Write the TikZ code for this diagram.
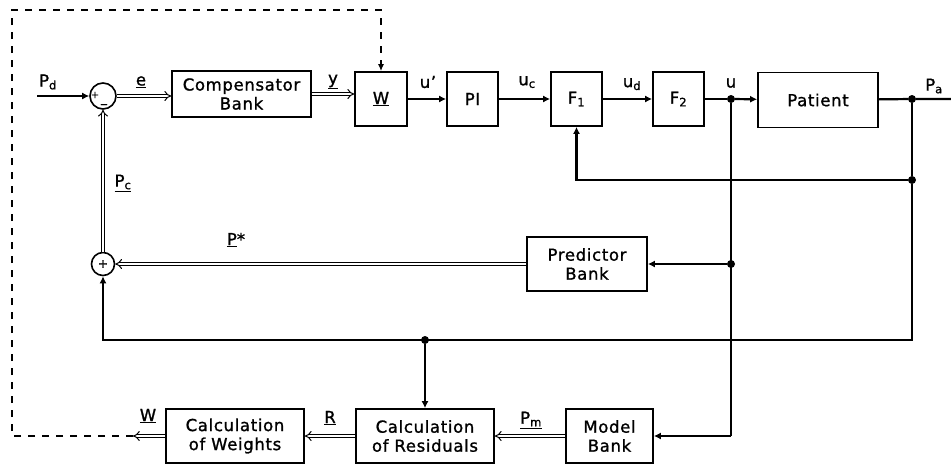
\documentclass[tikz,border=0pt]{standalone}
\usepackage{fontspec}
\setmainfont[LetterSpace=4,FakeBold=1.2]{DejaVu Sans}
\usetikzlibrary{arrows.meta}
\begin{document}
\begin{tikzpicture}[x=1pt,y=-1pt,
  every node/.style={font=\fontsize{16.5}{19}\selectfont},
  blk/.style={draw,line width=1.7pt,align=center,inner sep=0pt},
  sumc/.style={draw,circle,line width=1.6pt,inner sep=0pt},
  sig/.style={line width=2.2pt,-{Latex[length=7pt,width=7pt]}},
  wire/.style={line width=2.2pt},
  dbl/.style={double,line width=1pt,double distance=2.4pt,-{Implies}},
  dsh/.style={dash pattern=on 7pt off 7pt,line width=1.5pt},
  dot/.style={circle,fill,inner sep=0pt,minimum size=8pt},
  sgn/.style={inner sep=0pt,font=\fontsize{10}{10}\selectfont},
  lbl/.style={inner sep=0pt}
]
\useasboundingbox (0,0) rectangle (951,466);

% blocks
\node[sumc,minimum size=26pt] (s1) at (103,96) {};
\node[sgn] (s1p) at (95,95) {+};
\node[sgn] (s1m) at (104,106) {−};
\node[sumc,minimum size=23pt] (s2) at (103,264) {};
\node[sgn,font=\fontsize{12}{12}\selectfont] (s2p) at (103,264) {+};
\node[blk,minimum width=139pt,minimum height=46pt] (comp) at (241.5,94) {Compensator\\Bank};
\node[blk,minimum width=52pt,minimum height=54pt] (W) at (381,99) {\underline{W}};
\node[blk,minimum width=51pt,minimum height=54pt] (PI) at (472.5,99) {PI};
\node[blk,minimum width=51pt,minimum height=54pt] (F1) at (576.5,99) {F\textsubscript{1}};
\node[blk,minimum width=51pt,minimum height=54pt] (F2) at (678.5,99) {F\textsubscript{2}};
\node[blk,minimum width=120pt,minimum height=55pt] (pat) at (818,100) {Patient};
\node[blk,minimum width=120pt,minimum height=54pt] (pred) at (587,264) {Predictor\\Bank};
\node[blk,minimum width=138pt,minimum height=54pt] (cw) at (235,436) {Calculation\\of Weights};
\node[blk,minimum width=138pt,minimum height=54pt] (res) at (425,436) {Calculation\\of Residuals};
\node[blk,minimum width=87pt,minimum height=54pt] (mb) at (609.5,436) {Model\\Bank};

% junctions and coordinates
\node[dot] (ju) at (731,99) {};
\node[dot] (jpa) at (912,99) {};
\node[dot] (jfb) at (912,180) {};
\node[dot] (jpr) at (731,264) {};
\node[dot] (jbot) at (425,340) {};
\coordinate (pin) at (37,96);
\coordinate (pout) at (951,99);
\coordinate (cbr) at (912,340);
\coordinate (umb) at (731,436);
\coordinate (wend) at (133,436);
\coordinate (d1) at (12,436);
\coordinate (d2) at (12,10);
\coordinate (d3) at (381,10);

% forward path
\draw[sig] (pin) -- (s1);
\draw[dbl] (s1) -- (s1 -| comp.west);
\draw[dbl] (comp.east) -- (comp.east -| W.west);
\draw[sig] (W) -- (PI);
\draw[sig] (PI) -- (F1);
\draw[sig] (F1) -- (F2);
\draw[wire] (F2) -- (ju);
\draw[sig] (ju) -- (pat);
\draw[wire] (pat) -- (jpa) -- (pout);

% feedback
\draw[sig] (jfb) -| (F1.south);
\draw[wire] (jpa) -- (jfb);
\draw[sig] (jfb) -- (cbr) -| (s2.south);
\draw[sig] (jbot) -- (res.north);
\draw[wire] (ju) -- (umb);
\draw[sig] (umb) -- (mb.east);
\draw[sig] (jpr) -- (pred.east);
\draw[dbl] (pred) -- (s2);
\draw[dbl] (s2) -- (s1);

% bottom
\draw[dbl] (mb) -- (res);
\draw[dbl] (res) -- (cw);
\draw[dbl] (cw) -- (wend);
\draw[dsh,-{Latex[length=7pt,width=6pt]}] (wend) -- (d1) -- (d2) -- (d3) -- (W.north);

% labels
\node[lbl] (lpd) at (48,82) {P\textsubscript{d}};
\node[lbl] (le) at (141,82) {\underline{e}};
\node[lbl] (ly) at (333,82) {\underline{y}};
\node[lbl] (lup) at (428,82) {u'};
\node[lbl] (luc) at (527,82) {u\textsubscript{c}};
\node[lbl] (lud) at (632,84) {u\textsubscript{d}};
\node[lbl] (lu) at (731,83) {u};
\node[lbl] (lpa) at (934,86) {P\textsubscript{a}};
\node[lbl] (lpc) at (123,183) {\underline{P\textsubscript{c}}};
\node[lbl] (lps) at (236,240) {\underline{P}*};
\node[lbl] (lw) at (148,416) {\underline{W}};
\node[lbl] (lr) at (330,418) {\underline{R}};
\node[lbl] (lpm) at (531,420) {\underline{P\textsubscript{m}}};
\end{tikzpicture}
\end{document}
